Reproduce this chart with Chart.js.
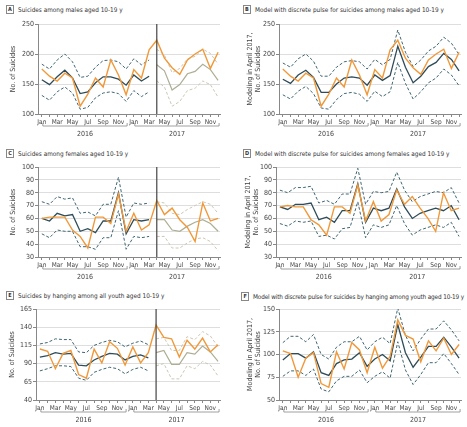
<!DOCTYPE html>
<html>
<head>
<meta charset="utf-8">
<script src="https://cdn.jsdelivr.net/npm/chart.js@4.4.1/dist/chart.umd.min.js"></script>
<style>
  body { margin: 0; background: #fff; width: 467px; height: 427px; overflow: hidden; position: relative;
         font-family: "Liberation Sans Narrow", "DejaVu Sans Condensed", sans-serif; }
  canvas { position: absolute; }
  .ttl { position: absolute; font-size: 6.4px; color: #333; white-space: nowrap; line-height: 10px; }
  .ttl span { display: inline-block; border: 1px solid #888; font-weight: bold; font-size: 5.5px;
              width: 6px; height: 7px; line-height: 7px; text-align: center; margin-right: 4px; vertical-align: 1px; }
</style>
</head>
<body>
<div class="ttl" style="left:6px;top:5px"><span>A</span>Suicides among males aged 10-19 y</div>
<div class="ttl" style="left:243px;top:5px"><span>B</span>Model with discrete pulse for suicides among males aged 10-19 y</div>
<div class="ttl" style="left:6px;top:149px"><span>C</span>Suicides among females aged 10-19 y</div>
<div class="ttl" style="left:243px;top:149px"><span>D</span>Model with discrete pulse for suicides among females aged 10-19 y</div>
<div class="ttl" style="left:6px;top:291px"><span>E</span>Suicides by hanging among all youth aged 10-19 y</div>
<div class="ttl" style="left:241px;top:292px;letter-spacing:-0.15px"><span>F</span>Model with discrete pulse for suicides by hanging among youth aged 10-19 y</div>

<canvas id="chartA"></canvas>
<canvas id="chartB"></canvas>
<canvas id="chartC"></canvas>
<canvas id="chartD"></canvas>
<canvas id="chartE"></canvas>
<canvas id="chartF"></canvas>

<script>
// --- DATA ---
const months = ["Jan", "Feb", "Mar", "Apr", "May", "Jun", "Jul", "Aug", "Sep", "Oct", "Nov", "Dec"];
const monthLabels = months.concat(months);
const yearLabels = ["2016", "2017"];
const breakMonth = 15; // April 2017

// males
const maleObserved = [175, 163, 155, 168, 160, 113, 133, 160, 145, 190, 165, 132, 174, 160, 207, 223, 193, 177, 166, 190, 200, 208, 176, 203];
const maleFit = [157, 149, 162, 173, 160, 134, 137, 152, 162, 162, 158, 148, 165, 155, 163];
const maleFitHi = [183, 175, 190, 200, 187, 161, 163, 178, 189, 190, 187, 175, 192, 182, 190];
const maleFitLo = [131, 123, 137, 145, 135, 108, 111, 127, 135, 137, 134, 121, 139, 129, 137];
const maleForecast = [182, 172, 140, 149, 167, 171, 183, 174, 156];
const maleForecastHi = [208, 198, 169, 176, 192, 196, 208, 201, 183];
const maleForecastLo = [155, 145, 113, 121, 139, 143, 155, 149, 128];
const malePulse = [158, 151, 165, 173, 161, 136, 136, 150, 160, 162, 160, 148, 165, 156, 164, 213, 178, 152, 163, 179, 186, 201, 191, 172];
const malePulseHi = [185, 178, 192, 200, 188, 163, 163, 178, 187, 189, 187, 175, 191, 182, 191, 240, 203, 179, 190, 205, 213, 228, 218, 199];
const malePulseLo = [132, 125, 138, 146, 134, 110, 108, 124, 134, 136, 133, 121, 138, 129, 137, 186, 151, 125, 137, 152, 160, 175, 165, 147];

// females
const femaleObserved = [60, 61, 61, 61, 51, 46, 37, 61, 61, 56, 79, 50, 64, 51, 55, 74, 63, 68, 59, 53, 42, 72, 58, 60];
const femaleFit = [60, 58, 64, 62, 63, 50, 52, 49, 58, 58, 80, 48, 59, 58, 59];
const femaleFitHi = [73, 71, 77, 75, 76, 64, 65, 62, 71, 71, 92, 61, 72, 71, 72];
const femaleFitLo = [48, 45, 51, 50, 50, 38, 38, 36, 45, 45, 66, 36, 46, 45, 46];
const femaleForecast = [59, 59, 51, 50, 54, 57, 59, 56, 50];
const femaleForecastHi = [73, 72, 64, 63, 67, 70, 73, 71, 64];
const femaleForecastLo = [46, 46, 37, 37, 41, 44, 45, 42, 35];
const femaleObservedD = [69, 70, 69, 69, 59, 55, 47, 69, 69, 64, 86, 58, 73, 58, 63, 82, 71, 77, 68, 60, 50, 80, 66, 68];
const femalePulse = [69, 67, 71, 71, 72, 59, 61, 57, 66, 66, 87, 57, 68, 66, 68, 83, 69, 60, 64, 66, 68, 66, 70, 59];
const femalePulseHi = [82, 80, 84, 84, 85, 72, 74, 71, 79, 79, 99, 71, 81, 80, 81, 96, 82, 73, 77, 79, 81, 80, 84, 72];
const femalePulseLo = [56, 54, 58, 57, 58, 46, 47, 44, 52, 53, 73, 45, 55, 53, 55, 70, 56, 47, 51, 53, 55, 53, 57, 46];

// hanging
const hangObserved = [110, 107, 83, 104, 108, 75, 70, 110, 91, 120, 111, 88, 113, 91, 105, 143, 126, 124, 99, 122, 110, 125, 106, 116];
const hangFit = [99, 101, 105, 103, 104, 88, 87, 95, 100, 104, 103, 95, 100, 102, 98];
const hangFitHi = [117, 119, 124, 123, 123, 106, 105, 115, 119, 122, 120, 113, 118, 121, 116];
const hangFitLo = [80, 83, 87, 87, 86, 70, 67, 78, 82, 85, 83, 76, 82, 85, 80];
const hangForecast = [105, 108, 89, 89, 105, 103, 114, 106, 93];
const hangForecastHi = [124, 126, 108, 108, 127, 123, 134, 128, 113];
const hangForecastLo = [87, 90, 69, 69, 87, 83, 93, 88, 73];
const hangObservedF = [104, 101, 75, 96, 102, 68, 64, 103, 84, 113, 105, 80, 108, 85, 98, 138, 121, 117, 92, 115, 104, 118, 100, 111];
const hangPulse = [94, 101, 101, 96, 103, 80, 77, 90, 94, 95, 102, 87, 95, 100, 93, 133, 102, 86, 97, 109, 109, 119, 108, 96];
const hangPulseHi = [113, 120, 120, 114, 122, 100, 95, 108, 114, 114, 120, 105, 114, 119, 112, 151, 121, 104, 117, 128, 128, 137, 127, 115];
const hangPulseLo = [76, 82, 82, 77, 84, 62, 59, 71, 76, 76, 83, 69, 76, 81, 74, 114, 83, 67, 78, 91, 91, 101, 90, 78];

// --- STYLES ---
const ORANGE = "#f0993a";
const DARK = "#2e4c58";
const BAND = "#3f6673";
const FC = "#aeae95";
const FC_BAND = "#cbc7b4";
const FONT = "'Liberation Sans Narrow', 'DejaVu Sans Condensed', sans-serif";

function pts(values, start = 0) {
  return values.map((v, i) => ({ x: start + i, y: v }));
}
function line(values, color, width, dash, start) {
  return { data: pts(values, start), borderColor: color, borderWidth: width, borderDash: dash || [], pointRadius: 0, tension: 0, fill: false };
}

// --- EXTRA DRAWING: year brackets + April 2017 line ---
const decorations = {
  id: "decorations",
  afterDatasetsDraw(chart, args, opts) {
    const { ctx, chartArea } = chart;
    const x = chart.scales.x;
    ctx.save();
    if (opts.breakLine) {
      const px = x.getPixelForValue(breakMonth);
      ctx.strokeStyle = "#444";
      ctx.lineWidth = 1.2;
      ctx.beginPath();
      ctx.moveTo(px, chartArea.top);
      ctx.lineTo(px, chartArea.bottom);
      ctx.stroke();
    }
    const yb = chartArea.bottom + 12;
    ctx.strokeStyle = "#888";
    ctx.lineWidth = 0.8;
    ctx.fillStyle = "#444";
    ctx.font = "7px " + FONT;
    ctx.textAlign = "center";
    ctx.textBaseline = "middle";
    yearLabels.forEach((yr, k) => {
      const x0 = x.getPixelForValue(k * 12) + 1;
      const x1 = x.getPixelForValue(k * 12 + 11) + 1;
      ctx.beginPath();
      ctx.moveTo(x0, yb - 3);
      ctx.lineTo(x0, yb);
      ctx.lineTo(x1, yb);
      ctx.lineTo(x1, yb - 3);
      ctx.stroke();
      ctx.fillText(yr, (x0 + x1) / 2, yb + 8);
    });
    ctx.restore();
  }
};

function makeChart(id, p) {
  const el = document.getElementById(id);
  el.style.left = p.left + "px";
  el.style.top = p.top + "px";
  el.width = p.w;
  el.height = p.h;
  return new Chart(el, {
    type: "line",
    data: { datasets: p.datasets },
    plugins: [decorations],
    options: {
      responsive: false,
      animation: false,
      layout: { padding: { top: p.padT, right: p.padR, left: 0, bottom: 0 } },
      plugins: {
        legend: { display: false },
        tooltip: { enabled: false },
        decorations: { breakLine: p.breakLine }
      },
      scales: {
        x: {
          type: "linear", min: -0.5, max: 23.25,
          afterFit: s => { s.height = p.xH; },
          border: { color: "#888" },
          grid: { drawOnChartArea: false, tickLength: 3, color: "#888" },
          ticks: {
            stepSize: 1, autoSkip: false, maxRotation: 0, includeBounds: false, padding: 1,
            color: "#444", font: { size: 6.5, family: FONT },
            callback: v => (Number.isInteger(v) && v % 2 === 0) ? monthLabels[v] : ""
          }
        },
        y: {
          min: p.yMin, max: p.yMax,
          afterFit: s => { s.width = p.yW; },
          border: { color: "#888" },
          grid: { color: "#dedede", tickColor: "#888", tickLength: 3 },
          ticks: { stepSize: p.yStep, padding: 1, color: "#444", font: { size: 7, family: FONT } },
          title: {
            display: true, text: p.yTitle, color: "#444",
            font: { size: 7, family: FONT, lineHeight: 1.05 },
            padding: { top: p.titlePad, bottom: 0 }
          }
        }
      }
    }
  });
}

function observedSet(values, fit, hi, lo, fc, fcHi, fcLo) {
  return [
    line(values, ORANGE, 1.4),
    line(fit, DARK, 1.3),
    line(hi, BAND, 1, [3, 2]),
    line(lo, BAND, 1, [3, 2]),
    line(fc, FC, 1.2, [], breakMonth),
    line(fcHi, FC_BAND, 1, [3, 2], breakMonth),
    line(fcLo, FC_BAND, 1, [3, 2], breakMonth)
  ];
}
function pulseSet(values, fit, hi, lo) {
  return [
    line(values, ORANGE, 1.4),
    line(fit, DARK, 1.3),
    line(hi, BAND, 1, [3, 2]),
    line(lo, BAND, 1, [3, 2])
  ];
}

const leftTitle = "No. of Suicides";
const rightTitle = ["Modeling in April 2017,", "No. of Suicides"];

makeChart("chartA", { left: 0, top: 0, w: 233, h: 143, yW: 38, padR: 13, padT: 24, xH: 29,
  yMin: 100, yMax: 250, yStep: 50, yTitle: leftTitle, titlePad: 10, breakLine: true,
  datasets: observedSet(maleObserved, maleFit, maleFitHi, maleFitLo, maleForecast, maleForecastHi, maleForecastLo) });
makeChart("chartB", { left: 233, top: 0, w: 234, h: 143, yW: 46, padR: 6, padT: 24, xH: 29,
  yMin: 100, yMax: 250, yStep: 50, yTitle: rightTitle, titlePad: 14, breakLine: false,
  datasets: pulseSet(maleObserved, malePulse, malePulseHi, malePulseLo) });
makeChart("chartC", { left: 0, top: 143, w: 233, h: 142, yW: 38, padR: 13, padT: 24, xH: 28,
  yMin: 30, yMax: 100, yStep: 10, yTitle: leftTitle, titlePad: 10, breakLine: true,
  datasets: observedSet(femaleObserved, femaleFit, femaleFitHi, femaleFitLo, femaleForecast, femaleForecastHi, femaleForecastLo) });
makeChart("chartD", { left: 233, top: 143, w: 234, h: 142, yW: 43, padR: 6, padT: 24, xH: 28,
  yMin: 30, yMax: 100, yStep: 10, yTitle: rightTitle, titlePad: 12, breakLine: false,
  datasets: pulseSet(femaleObservedD, femalePulse, femalePulseHi, femalePulseLo) });
makeChart("chartE", { left: 0, top: 285, w: 233, h: 142, yW: 36, padR: 13, padT: 24, xH: 27,
  yMin: 40, yMax: 165, yStep: 25, yTitle: leftTitle, titlePad: 9, breakLine: true,
  datasets: observedSet(hangObserved, hangFit, hangFitHi, hangFitLo, hangForecast, hangForecastHi, hangForecastLo) });
makeChart("chartF", { left: 233, top: 285, w: 234, h: 142, yW: 46, padR: 6, padT: 24, xH: 27,
  yMin: 50, yMax: 150, yStep: 25, yTitle: rightTitle, titlePad: 14, breakLine: false,
  datasets: pulseSet(hangObservedF, hangPulse, hangPulseHi, hangPulseLo) });
</script>
</body>
</html>
